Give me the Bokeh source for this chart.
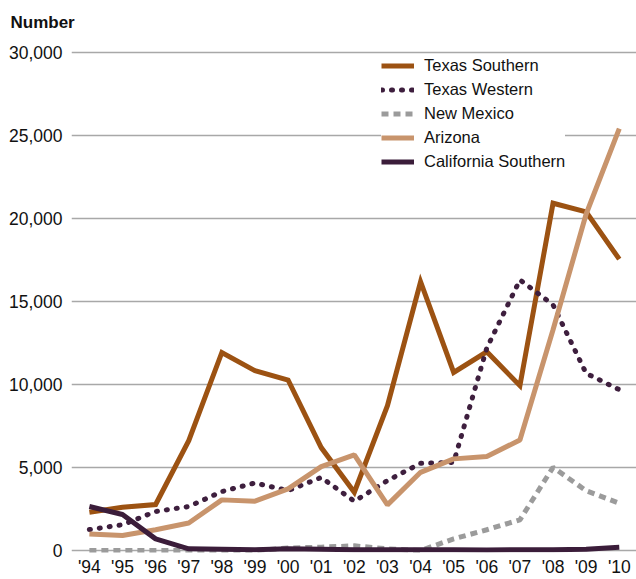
from bokeh.plotting import figure
from bokeh.models import Range1d, Legend, LegendItem, NumeralTickFormatter, FixedTicker, Title
from bokeh.embed import file_html
from bokeh.resources import INLINE

years = ["'94", "'95", "'96", "'97", "'98", "'99", "'00", "'01", "'02", "'03",
         "'04", "'05", "'06", "'07", "'08", "'09", "'10"]
texas_southern = [2300, 2600, 2770, 6620, 11930, 10830, 10270, 6200, 3510, 8720,
                  16190, 10730, 11970, 9930, 20920, 20400, 17550]
texas_western = [1260, 1550, 2350, 2650, 3550, 4070, 3610, 4400, 2970, 4210,
                 5250, 5310, 12200, 16300, 14800, 10670, 9690]
new_mexico = [0, 0, 0, 0, 0, 0, 150, 200, 280, 100,
              0, 700, 1250, 1850, 5010, 3600, 2850]
arizona = [1000, 900, 1250, 1660, 3050, 2970, 3710, 5050, 5760, 2750,
           4710, 5520, 5660, 6660, 13300, 20270, 25410]
california_southern = [2650, 2170, 700, 100, 80, 50, 100, 80, 50, 50,
                       40, 40, 30, 50, 50, 80, 200]
y_ticks = [0, 5000, 10000, 15000, 20000, 25000, 30000]

FONT = "Liberation Sans"
xs = list(range(len(years)))

p = figure(frame_width=565, frame_height=512, output_backend="svg", toolbar_location=None,
           x_range=Range1d(-0.54, 16.52), y_range=Range1d(-120, 30722),
           min_border_left=71, min_border_right=0, min_border_top=40, min_border_bottom=27)
p.outline_line_color = None
p.background_fill_color = "white"

p.xaxis.ticker = FixedTicker(ticks=xs)
p.xaxis.major_label_overrides = {i: y for i, y in enumerate(years)}
p.yaxis.ticker = FixedTicker(ticks=y_ticks)
p.yaxis.formatter = NumeralTickFormatter(format="0,0")
for ax in (p.xaxis, p.yaxis):
    ax.axis_line_color = None
    ax.major_tick_line_color = None
    ax.minor_tick_line_color = None
    ax.major_tick_in = 0
    ax.major_tick_out = 0
    ax.minor_tick_in = 0
    ax.minor_tick_out = 0
    ax.major_label_text_font = FONT
    ax.major_label_text_font_size = "17.5px"
    ax.major_label_text_color = "#111111"
p.yaxis.major_label_standoff = 9
p.xaxis.major_label_standoff = 4
p.xgrid.grid_line_color = None
p.ygrid.grid_line_color = "#a8a8a8"
p.ygrid.grid_line_width = 1.5

p.add_layout(Title(text="Number", text_font=FONT, text_font_size="17px",
                   text_font_style="bold", text_color="#111111", offset=-61,
                   standoff=18), "above")

r_ts = p.line(xs, texas_southern, line_color="#9c5212", line_width=5, line_join="miter")
r_tw = p.line(xs, texas_western, line_color="#3e1f3e", line_width=5,
              line_dash="1 9", line_cap="round")
r_nm = p.line(xs, new_mexico, line_color="#9b9b9b", line_width=5, line_dash="7 5")
r_az = p.line(xs, arizona, line_color="#c8946c", line_width=5)
r_cs = p.line(xs, california_southern, line_color="#3b1d3a", line_width=5)

legend = Legend(items=[
    LegendItem(label="Texas Southern", renderers=[r_ts]),
    LegendItem(label="Texas Western", renderers=[r_tw]),
    LegendItem(label="New Mexico", renderers=[r_nm]),
    LegendItem(label="Arizona", renderers=[r_az]),
    LegendItem(label="California Southern", renderers=[r_cs]),
], location=(310, 379))
legend.label_text_font = FONT
legend.label_text_font_size = "16.5px"
legend.label_text_color = "#111111"
legend.glyph_width = 33
legend.glyph_height = 23
legend.label_height = 23
legend.label_standoff = 10
legend.spacing = 1
legend.padding = 2
legend.margin = 0
legend.border_line_color = None
legend.background_fill_color = "white"
legend.background_fill_alpha = 1.0
p.add_layout(legend, "center")

open("out.html", "w").write(file_html(p, INLINE))
